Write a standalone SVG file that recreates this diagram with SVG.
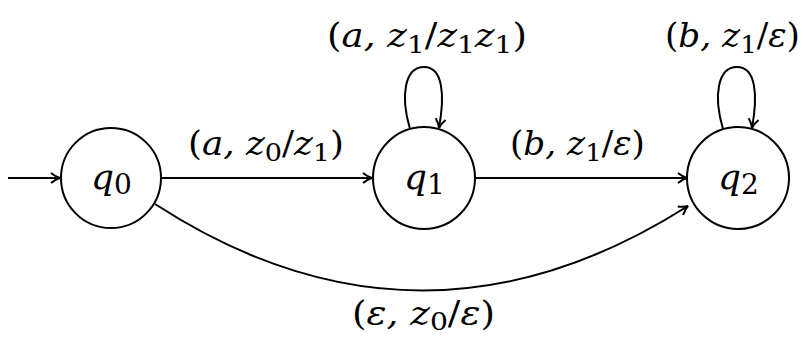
<svg xmlns="http://www.w3.org/2000/svg" width="806" height="338" viewBox="0 0 806 338">
<style>
.st{fill:#fff;stroke:#000;stroke-width:2}
.e{fill:none;stroke:#000;stroke-width:2}
.lab{font-family:'DejaVu Serif','Liberation Serif',serif;font-size:33px;font-style:italic;fill:#000}
.nl{font-family:'DejaVu Serif','Liberation Serif',serif;font-size:36px;font-style:italic;fill:#000}
.up{font-style:normal}
</style>
<defs>
<marker id="ar" markerUnits="userSpaceOnUse" markerWidth="16" markerHeight="14" refX="12" refY="7" orient="auto">
<path d="M3,2 Q8,6 12,7 Q8,8 3,12" fill="none" stroke="#000" stroke-width="2"/>
</marker>
</defs>
<g id="connectors">
<line class="e" x1="8" y1="178" x2="60" y2="178" marker-end="url(#ar)"/>
<line class="e" x1="162" y1="178" x2="372" y2="178" marker-end="url(#ar)"/>
<line class="e" x1="475" y1="178" x2="687" y2="178" marker-end="url(#ar)"/>
<path class="e" d="M410,129 C400,95 405,67 424,67 C443,67 445,95 439,128" marker-end="url(#ar)"/>
<path class="e" d="M723,129 C713,95 718,67 737,67 C756,67 758,95 752,128" marker-end="url(#ar)"/>
<path class="e" d="M155,204 Q420,376 688,206" marker-end="url(#ar)"/>
<text class="lab" x="188" y="155" textLength="156" lengthAdjust="spacingAndGlyphs"><tspan class="up">(</tspan>a, z<tspan class="up" font-size="25" dy="6">0</tspan><tspan class="up" dy="-6">/</tspan>z<tspan class="up" font-size="25" dy="6">1</tspan><tspan class="up" dy="-6">)</tspan></text>
<text class="lab" x="327" y="47" textLength="200" lengthAdjust="spacingAndGlyphs"><tspan class="up">(</tspan>a, z<tspan class="up" font-size="25" dy="6">1</tspan><tspan class="up" dy="-6">/</tspan>z<tspan class="up" font-size="25" dy="6">1</tspan><tspan dy="-6">z</tspan><tspan class="up" font-size="25" dy="6">1</tspan><tspan class="up" dy="-6">)</tspan></text>
<text class="lab" x="510" y="155" textLength="135" lengthAdjust="spacingAndGlyphs"><tspan class="up">(</tspan>b, z<tspan class="up" font-size="25" dy="6">1</tspan><tspan class="up" dy="-6">/</tspan>ε<tspan class="up">)</tspan></text>
<text class="lab" x="665" y="47" textLength="135" lengthAdjust="spacingAndGlyphs"><tspan class="up">(</tspan>b, z<tspan class="up" font-size="25" dy="6">1</tspan><tspan class="up" dy="-6">/</tspan>ε<tspan class="up">)</tspan></text>
<text class="lab" x="352" y="325" textLength="143" lengthAdjust="spacingAndGlyphs"><tspan class="up">(</tspan>ε, z<tspan class="up" font-size="25" dy="5">0</tspan><tspan class="up" dy="-5">/</tspan>ε<tspan class="up">)</tspan></text>
</g>
<g id="q0">
<circle class="st" cx="111" cy="178" r="50"/>
<text class="nl" x="91" y="189">q<tspan class="up" font-size="28" dy="5">0</tspan></text>
</g>
<g id="q1">
<circle class="st" cx="424" cy="178" r="51"/>
<text class="nl" x="404" y="189">q<tspan class="up" font-size="28" dy="5">1</tspan></text>
</g>
<g id="q2">
<circle class="st" cx="738" cy="178" r="51"/>
<text class="nl" x="718" y="189">q<tspan class="up" font-size="28" dy="5">2</tspan></text>
</g>
</svg>
